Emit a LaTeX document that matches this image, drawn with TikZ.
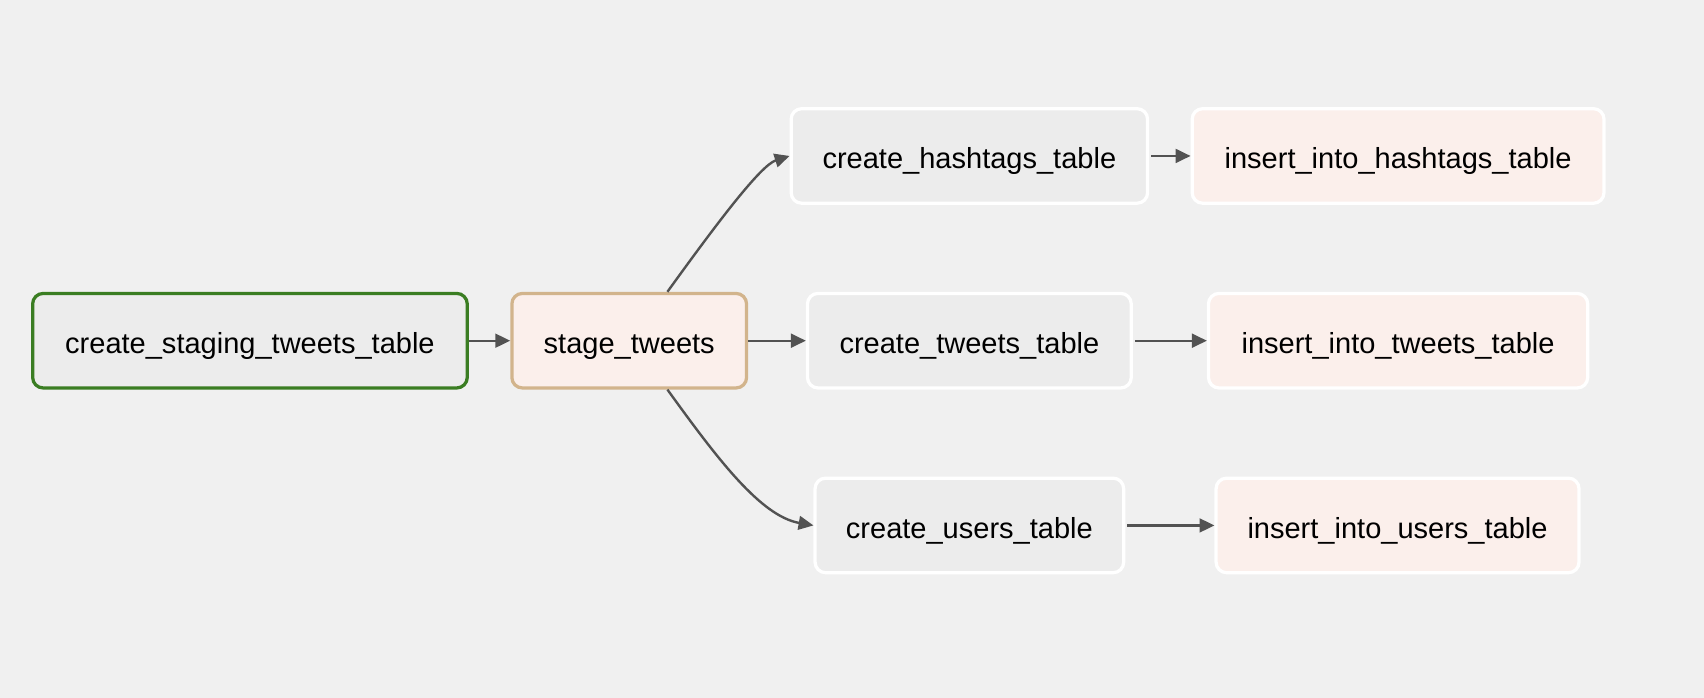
\documentclass[tikz,border=0pt]{standalone}
\usepackage{fontspec}
\setmainfont{Liberation Sans}
\usetikzlibrary{arrows.meta}
\definecolor{bg}{HTML}{F0F0F0}
\definecolor{greyfill}{HTML}{ECECEC}
\definecolor{pinkfill}{HTML}{FBEFEB}
\definecolor{okgreen}{HTML}{3A7D22}
\definecolor{tanline}{HTML}{D2B48C}
\definecolor{edgecol}{HTML}{525252}
\tikzset{
  task/.style={rectangle, rounded corners=5.5pt, line width=1.7pt, draw=white,
    minimum height=1.74cm, inner sep=0pt, text height=13.4pt, text depth=0pt,
    font=\fontsize{15.2}{18}\selectfont, text=black},
  greytask/.style={task, fill=greyfill},
  pinktask/.style={task, fill=pinkfill},
  flow/.style={draw=edgecol, line width=1.25pt, -{Triangle[length=7.8pt,width=7.2pt]}}
}
\begin{document}
\begin{tikzpicture}[x=0.02cm,y=-0.02cm]
\fill[bg] (0,0) rectangle (1568,642);
\useasboundingbox (0,0) rectangle (1568,642);
\node[greytask, draw=okgreen, minimum width=8cm] (A) at (230,313.5) {create\_staging\_tweets\_table};
\node[pinktask, draw=tanline, minimum width=4.32cm] (B) at (579,313.5) {stage\_tweets};
\node[greytask, minimum width=6.56cm] (C) at (892,143.5) {create\_hashtags\_table};
\node[pinktask, minimum width=7.58cm] (D) at (1286.5,143.5) {insert\_into\_hashtags\_table};
\node[greytask, minimum width=5.96cm] (E) at (892,313.5) {create\_tweets\_table};
\node[pinktask, minimum width=6.98cm] (F) at (1286.5,313.5) {insert\_into\_tweets\_table};
\node[greytask, minimum width=5.68cm] (G) at (892,483.5) {create\_users\_table};
\node[pinktask, minimum width=6.68cm] (H) at (1286,483.5) {insert\_into\_users\_table};
\draw[flow] (A.east) -- (B.west);
\draw[flow] (B.east) -- (E.west);
\draw[flow] (B.52) .. controls (660,205) and (700,152) .. (C.west);
\draw[flow] (B.-52) .. controls (660,422) and (700,475) .. (G.west);
\draw[flow] ([xshift=1pt]C.east) -- (D.west);
\draw[flow] ([xshift=1pt]E.east) -- (F.west);
\draw[flow] ([xshift=1pt]G.east) -- (H.west);
\end{tikzpicture}
\end{document}
